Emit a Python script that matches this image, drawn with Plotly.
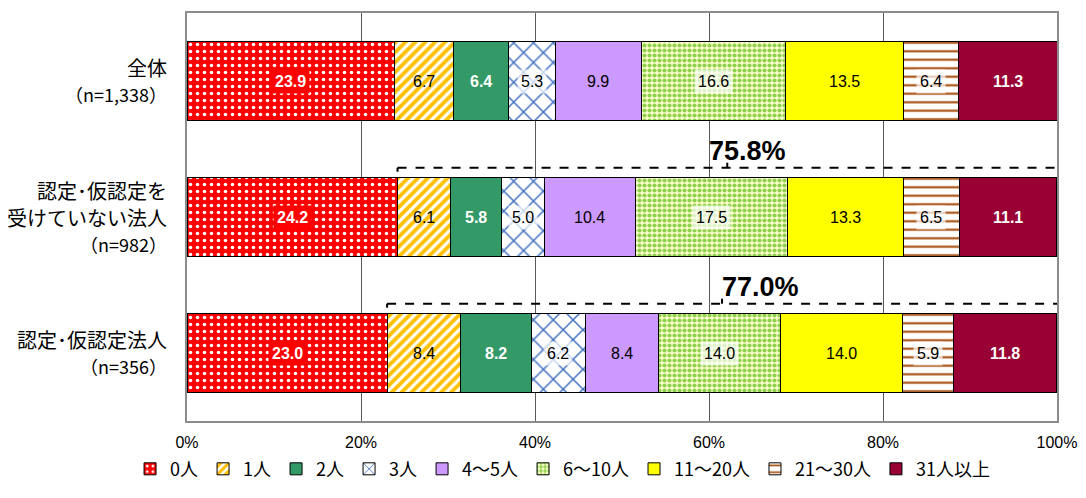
import numpy as np
import plotly.graph_objects as go

# Row labels (each entry is a list of display lines)
row_lines = [
    ["全体", "（n=1,338）"],
    ["認定･仮認定を", "受けていない法人", "（n=982）"],
    ["認定･仮認定法人", "（n=356）"],
]

# Staff-size categories
series_names = ["0人", "1人", "2人", "3人", "4～5人", "6～10人", "11～20人", "21～30人", "31人以上"]

# Percentages per row (top to bottom), one list per category
values = {
    "0人":      [23.9, 24.2, 23.0],
    "1人":      [6.7, 6.1, 8.4],
    "2人":      [6.4, 5.8, 8.2],
    "3人":      [5.3, 5.0, 6.2],
    "4～5人":   [9.9, 10.4, 8.4],
    "6～10人":  [16.6, 17.5, 14.0],
    "11～20人": [13.5, 13.3, 14.0],
    "21～30人": [6.4, 6.5, 5.9],
    "31人以上": [11.3, 11.1, 11.8],
}

# Share of respondents with one or more staff (brackets on rows 2 and 3)
bracket_rows = [1, 2]
bracket_values = [75.8, 77.0]

x_ticks = [0, 20, 40, 60, 80, 100]
x_tick_text = ["0%", "20%", "40%", "60%", "80%", "100%"]

# Fill styles per category
styles = {
    "0人":      dict(color="#FF0000", pattern=dict(shape=".", fgcolor="#FFFFFF", bgcolor="#FF0000", size=7, solidity=0.2, fgopacity=1)),
    "1人":      dict(color="#FFFFFF", pattern=dict(shape="/", fgcolor="#FFC000", bgcolor="#FFFFFF", size=7, solidity=0.55, fgopacity=1)),
    "2人":      dict(color="#339966"),
    "3人":      dict(color="#FFFFFF", pattern=dict(shape="x", fgcolor="#3F6FBF", bgcolor="#FFFFFF", size=14, solidity=0.2, fgopacity=1)),
    "4～5人":   dict(color="#CC99FF"),
    "6～10人":  dict(color="#FFFFCC", pattern=dict(shape=".", fgcolor="#8FD14F", bgcolor="#FFFFCC", size=5, solidity=0.55, fgopacity=1)),
    "11～20人": dict(color="#FFFF00"),
    "21～30人": dict(color="#FFFFFF", pattern=dict(shape="-", fgcolor="#A8500F", bgcolor="#FFFFFF", size=8.5, solidity=0.25, fgopacity=1)),
    "31人以上": dict(color="#990033"),
}
label_style = {
    "0人":      dict(color="#FFFFFF", bold=True, bg="#FF0000"),
    "1人":      dict(color="#000000", bold=False, bg=None),
    "2人":      dict(color="#FFFFFF", bold=True, bg=None),
    "3人":      dict(color="#000000", bold=False, bg="rgba(255,255,255,0.7)"),
    "4～5人":   dict(color="#000000", bold=False, bg=None),
    "6～10人":  dict(color="#000000", bold=False, bg="rgba(255,255,255,0.7)"),
    "11～20人": dict(color="#000000", bold=False, bg=None),
    "21～30人": dict(color="#000000", bold=False, bg="rgba(255,255,255,0.7)"),
    "31人以上": dict(color="#FFFFFF", bold=True, bg=None),
}

rows = list(range(len(row_lines)))
BAR_W = 0.575
NUM_FONT = "Liberation Sans, Arial, sans-serif"
JP_FONT = "Noto Sans CJK JP, sans-serif"

fig = go.Figure()
for name in series_names:
    st = styles[name]
    marker = dict(color=st["color"], line=dict(color="#000000", width=1))
    if "pattern" in st:
        marker["pattern"] = st["pattern"]
    fig.add_trace(go.Bar(
        name=name, y=rows, x=values[name], orientation="h",
        width=BAR_W, marker=marker, hoverinfo="x+name",
    ))

annotations = []

# Value labels centred in each segment
cum = np.zeros(len(rows))
for name in series_names:
    v = np.array(values[name])
    centers = cum + v / 2
    ls = label_style[name]
    for r, (c, val) in enumerate(zip(centers, v)):
        txt = f"{val:.1f}"
        if ls["bold"]:
            txt = f"<b>{txt}</b>"
        a = dict(x=c, y=r, xref="x", yref="y", text=txt, showarrow=False,
                 font=dict(family=NUM_FONT, size=16, color=ls["color"]))
        if ls["bg"]:
            a.update(bgcolor=ls["bg"], borderpad=3)
        annotations.append(a)
    cum += v

# Row labels on the left; the "(n=...)" line is set a little smaller
LINE_H = 26.5
for r, lines in enumerate(row_lines):
    n = len(lines)
    for i, line in enumerate(lines):
        off = (i - (n - 1) / 2) * LINE_H
        size = 18 if line.startswith("（n=") else 20
        annotations.append(dict(
            x=0, y=r, xref="paper", yref="y", xanchor="right", yanchor="middle",
            xshift=-18, yshift=-off, text=line, showarrow=False,
            font=dict(family=JP_FONT, size=size, color="#000000"),
        ))

# Dashed brackets spanning the "1人 or more" part of rows 2 and 3
shapes = []
label_xshift = [-20, -2]
for k, (r, pct) in enumerate(zip(bracket_rows, bracket_values)):
    start = 100 - pct
    yb = r - BAR_W / 2 - 0.075
    mid = (start + 100) / 2
    shapes.append(dict(type="line", xref="x", yref="y", x0=start, x1=100, y0=yb, y1=yb,
                       line=dict(color="#000000", width=2, dash="dash")))
    shapes.append(dict(type="line", xref="x", yref="y", ysizemode="pixel", yanchor=yb,
                       x0=start, x1=start, y0=0, y1=-4, line=dict(color="#000000", width=2)))
    shapes.append(dict(type="line", xref="x", yref="y", ysizemode="pixel", yanchor=yb,
                       x0=mid, x1=mid, y0=0, y1=5, line=dict(color="#000000", width=2)))
    annotations.append(dict(
        x=mid, y=yb, xref="x", yref="y", xanchor="left", yanchor="bottom",
        xshift=label_xshift[k], yshift=0, text=f"<b>{pct:.1f}%</b>", showarrow=False,
        font=dict(family="Liberation Sans, Arial, sans-serif", size=27, color="#000000"),
    ))

fig.update_layout(
    barmode="stack",
    width=1086, height=498,
    margin=dict(l=187, r=29, t=13, b=77, autoexpand=False),
    paper_bgcolor="#FFFFFF", plot_bgcolor="#FFFFFF",
    showlegend=True,
    legend=dict(orientation="h", x=0.518, xanchor="center", xref="container",
                y=0.058, yanchor="middle", yref="container", traceorder="normal",
                bgcolor="rgba(0,0,0,0)",
                font=dict(family=JP_FONT, size=18, color="#000000"),
                itemwidth=30, tracegroupgap=0),
    xaxis=dict(range=[0, 100], tickvals=x_ticks, ticktext=x_tick_text,
               showgrid=True, gridcolor="#595959", gridwidth=1,
               showline=True, mirror=True, linecolor="#8C8C8C", linewidth=2,
               zeroline=False, ticks="", ticklabelstandoff=6,
               tickfont=dict(family=NUM_FONT, size=16, color="#000000")),
    yaxis=dict(range=[len(rows) - 0.5, -0.5], showticklabels=False,
               showgrid=False, zeroline=False,
               showline=True, mirror=True, linecolor="#8C8C8C", linewidth=2),
    annotations=annotations,
    shapes=shapes,
)

fig.write_html("out.html")
